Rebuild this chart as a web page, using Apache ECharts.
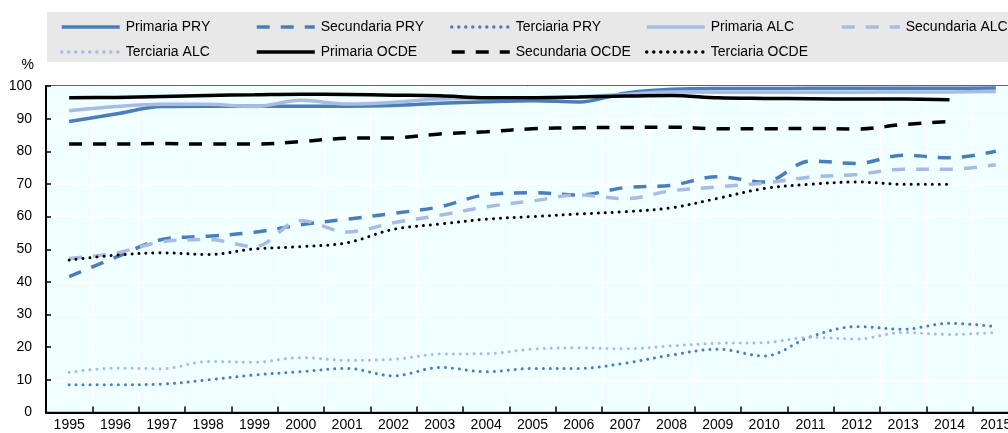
<!DOCTYPE html>
<html>
<head>
<meta charset="utf-8">
<script src="https://cdn.jsdelivr.net/npm/echarts@6/dist/echarts.min.js"></script>
<style>
  html, body { margin: 0; padding: 0; background: #ffffff; }
  #chart { width: 1008px; height: 433px; }
</style>
</head>
<body>
<div id="chart"></div>
<script>
// Tasas netas de matrícula por nivel educativo (%), 1995-2015
const years = ['1995','1996','1997','1998','1999','2000','2001','2002','2003','2004','2005',
               '2006','2007','2008','2009','2010','2011','2012','2013','2014','2015'];

const primariaPRY   = [89.1, 91.4, 93.7, 93.8, 93.8, 93.8, 93.8, 94.0, 94.7, 95.2, 95.5, 95.1, 97.8, 99.0, 99.2, 99.2, 99.3, 99.3, 99.3, 99.3, 99.4];
const secundariaPRY = [41.6, 47.5, 53.0, 54.0, 55.2, 57.5, 59.2, 61.0, 63.0, 66.7, 67.3, 66.6, 68.9, 69.6, 72.2, 70.6, 77.0, 76.3, 78.8, 78.0, 80.0];
const terciariaPRY  = [8.5, 8.5, 8.7, 10.0, 11.5, 12.5, 13.5, 11.2, 13.8, 12.5, 13.5, 13.5, 15.1, 17.6, 19.4, 17.3, 23.2, 26.3, 25.5, 27.3, 26.3];

const primariaALC   = [92.4, 93.7, 94.4, 94.4, 93.7, 95.6, 94.5, 95.0, 96.0, 96.2, 96.4, 96.7, 97.4, 98.2, 98.1, 98.1, 98.1, 98.1, 98.2, 98.2, 98.3];
const secundariaALC = [47.2, 48.8, 52.3, 53.0, 50.8, 58.8, 55.3, 58.1, 60.4, 63.0, 64.8, 66.6, 65.5, 67.9, 69.1, 70.3, 72.1, 72.9, 74.5, 74.5, 75.9];
const terciariaALC  = [12.3, 13.6, 13.4, 15.6, 15.4, 16.8, 16.0, 16.3, 17.9, 18.0, 19.4, 19.8, 19.5, 20.4, 21.2, 21.4, 23.0, 22.5, 24.5, 23.9, 24.5];

const primariaOCDE   = [96.4, 96.5, 96.8, 97.1, 97.3, 97.5, 97.4, 97.2, 97.0, 96.4, 96.4, 96.6, 96.9, 97.1, 96.4, 96.2, 96.1, 96.0, 96.0, 95.8, null];
const secundariaOCDE = [82.2, 82.2, 82.4, 82.2, 82.2, 83.0, 84.0, 84.1, 85.3, 86.0, 86.9, 87.2, 87.3, 87.4, 86.9, 86.9, 87.0, 86.8, 88.2, 89.1, null];
const terciariaOCDE  = [46.7, 48.2, 48.9, 48.4, 50.1, 50.8, 52.0, 56.1, 57.7, 59.2, 60.0, 60.8, 61.5, 62.7, 65.6, 68.6, 69.9, 70.6, 69.9, 69.9, null];

const yTicks = { min: 0, max: 100, interval: 10 };

const BLUE = '#4a7ebb';
const LIGHT = '#a7bbe5';
const BLACK = '#000000';
const DASH = [13, 11];
const DOT = [0.01, 7];

function line(name, data, color, type, width) {
  return {
    name: name,
    type: 'line',
    data: data,
    symbol: 'none',
    smooth: 0.35,
    connectNulls: false,
    lineStyle: { color: color, width: width, type: type, cap: type === DOT ? 'round' : 'butt' },
    itemStyle: { color: color },
    emphasis: { disabled: true }
  };
}

const series = [
  line('Primaria PRY',     primariaPRY,     BLUE,  'solid', 3.5),
  line('Secundaria PRY',   secundariaPRY,   BLUE,  DASH,    3.5),
  line('Terciaria PRY',    terciariaPRY,    BLUE,  DOT,     3),
  line('Primaria ALC',     primariaALC,     LIGHT, 'solid', 3.5),
  line('Secundaria ALC',   secundariaALC,   LIGHT, DASH,    3.5),
  line('Terciaria ALC',    terciariaALC,    LIGHT, DOT,     3),
  line('Primaria OCDE',    primariaOCDE,    BLACK, 'solid', 3.5),
  line('Secundaria OCDE',  secundariaOCDE,  BLACK, DASH,    3.5),
  line('Terciaria OCDE',   terciariaOCDE,   BLACK, DOT,     3)
];

// Five legend columns, two rows each
const legendColumns = [
  ['Primaria PRY', 'Terciaria ALC'],
  ['Secundaria PRY', 'Primaria OCDE'],
  ['Terciaria PRY', 'Secundaria OCDE'],
  ['Primaria ALC', 'Terciaria OCDE'],
  ['Secundaria ALC']
];

const legends = legendColumns.map((names, i) => ({
  data: names,
  orient: 'vertical',
  left: 60 + i * 195,
  top: 19,
  itemWidth: 58,
  itemHeight: 14,
  itemGap: 9,
  selectedMode: false,
  itemStyle: { opacity: 0 },
  lineStyle: { width: 3.5 },
  textStyle: { fontFamily: 'Liberation Sans, Arial, sans-serif', fontSize: 14, color: '#000', lineHeight: 16, padding: [0, 0, 0, 1] },
  padding: 0
}));

const chart = echarts.init(document.getElementById('chart'), null, { renderer: 'canvas' });
chart.setOption({
  animation: false,
  backgroundColor: '#ffffff',
  textStyle: { fontFamily: 'Liberation Sans, Arial, sans-serif' },
  graphic: [{
    type: 'rect',
    z: 0,
    shape: { x: 47, y: 12, width: 970, height: 50 },
    style: { fill: '#e8e8e8' }
  }],
  legend: legends,
  grid: {
    left: 46, top: 86, width: 973, height: 326.5,
    outerBoundsMode: 'none',
    containLabel: false,
    show: true,
    backgroundColor: '#f0ffff',
    borderColor: '#333',
    borderWidth: 1.5
  },
  xAxis: {
    type: 'category',
    data: years,
    boundaryGap: true,
    axisLine: { show: true, lineStyle: { color: '#000', width: 2 } },
    axisTick: { show: true, inside: true, length: 6, lineStyle: { color: '#000', width: 1.5 } },
    axisLabel: { color: '#000', fontSize: 14, margin: 6, interval: 0, hideOverlap: false },
    splitLine: { show: true, interval: 0, lineStyle: { color: '#ffffff', width: 1 } }
  },
  yAxis: {
    type: 'value',
    min: yTicks.min, max: yTicks.max, interval: yTicks.interval,
    name: '%',
    nameLocation: 'end',
    nameGap: 14,
    nameTextStyle: { color: '#000', fontSize: 14, align: 'right', padding: [0, 12, 0, 0] },
    axisLine: { show: true, lineStyle: { color: '#000', width: 2 } },
    axisTick: { show: true, inside: true, length: 5, lineStyle: { color: '#000', width: 1.5 } },
    axisLabel: { color: '#000', fontSize: 14, margin: 14 },
    splitLine: { show: true, lineStyle: { color: '#ffffff', width: 1 } }
  },
  series: series
});
</script>
</body>
</html>
